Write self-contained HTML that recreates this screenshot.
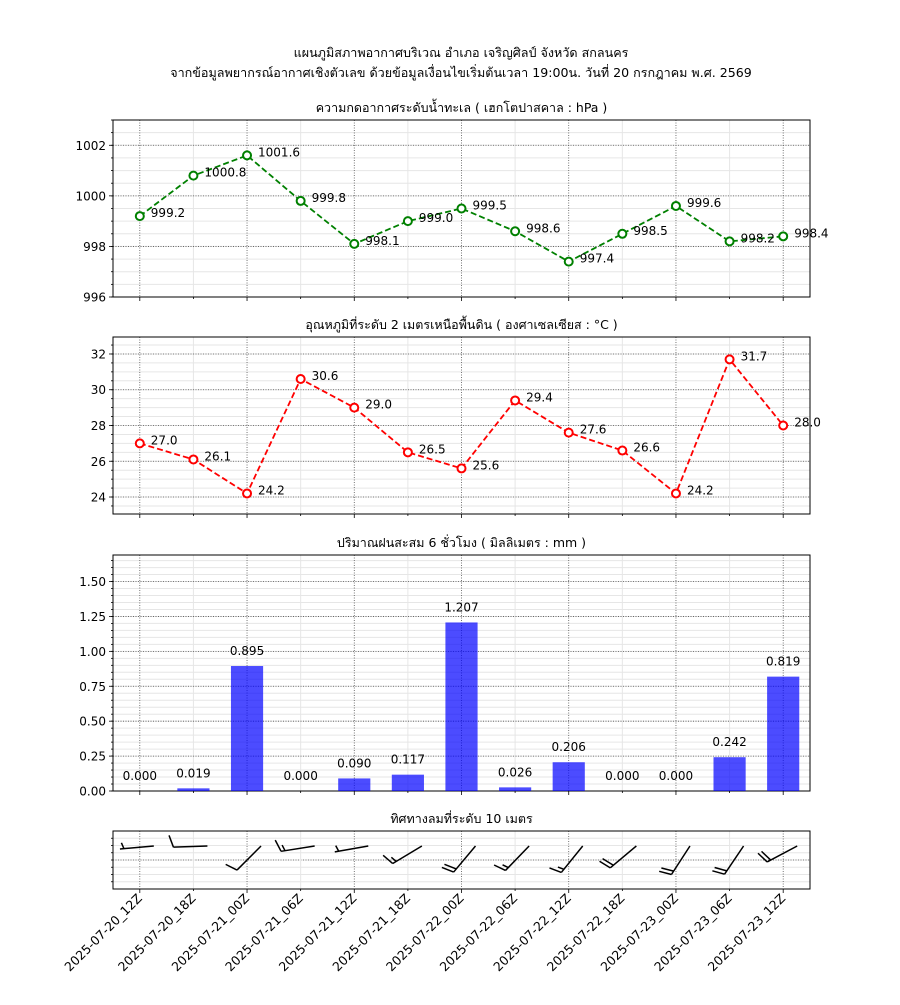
<!DOCTYPE html>
<html><head><meta charset="utf-8"><style>
body{margin:0;background:#fff;}
svg text{font-family:"DejaVu Sans","Noto Sans CJK SC","Liberation Sans",sans-serif;fill:#000;}
</style></head><body>
<svg id="c" width="900" height="1000" xmlns="http://www.w3.org/2000/svg">
<rect width="900" height="1000" fill="#fff"/>
<text x="461" y="57" font-size="12.6" text-anchor="middle">แผนภูมิสภาพอากาศบริเวณ อำเภอ เจริญศิลป์ จังหวัด สกลนคร</text>
<text x="461" y="77" font-size="12.6" text-anchor="middle">จากข้อมูลพยากรณ์อากาศเชิงตัวเลข ด้วยข้อมูลเงื่อนไขเริ่มต้นเวลา 19:00น. วันที่ 20 กรกฎาคม พ.ศ. 2569</text>
</svg>
<script>
const categories=["2025-07-20_12Z","2025-07-20_18Z","2025-07-21_00Z","2025-07-21_06Z","2025-07-21_12Z","2025-07-21_18Z","2025-07-22_00Z","2025-07-22_06Z","2025-07-22_12Z","2025-07-22_18Z","2025-07-23_00Z","2025-07-23_06Z","2025-07-23_12Z"];
const pressure=[999.2,1000.8,1001.6,999.8,998.1,999.0,999.5,998.6,997.4,998.5,999.6,998.2,998.4];
const temperature=[27.0,26.1,24.2,30.6,29.0,26.5,25.6,29.4,27.6,26.6,24.2,31.7,28.0];
const rain=[0.000,0.019,0.895,0.000,0.090,0.117,1.207,0.026,0.206,0.000,0.000,0.242,0.819];
const windDirDeg=[265,268,225,261,260,239,220,224,219,230,213,214,242];
const windSpeedKt=[5,10,10,15,5,15,20,15,15,20,20,20,20];
const pressureTicks=[996,998,1000,1002];
const tempTicks=[24,26,28,30,32];
const rainTicks=[0,0.25,0.5,0.75,1.0,1.25,1.5];

const svg=document.getElementById('c');
const NS='http://www.w3.org/2000/svg';
function mk(tag,attrs,parent){const e=document.createElementNS(NS,tag);for(const k in attrs)e.setAttribute(k,attrs[k]);(parent||svg).appendChild(e);return e;}
const L=113,R=810;
const xS=i=>L+(i+0.5)*(R-L)/categories.length;
function yScale(min,max,top,bot){return v=>bot-(v-min)/(max-min)*(bot-top);}

function frame(name,top,bot,title,ymin,ymax,ticks,minorStep,fmt){
  const g=mk('g',{});
  
  
  const y=yScale(ymin,ymax,top,bot);
  for(let v=Math.ceil(ymin/minorStep)*minorStep;v<=ymax+1e-9;v+=minorStep){mk('line',{x1:L,x2:R,y1:y(v),y2:y(v),stroke:'#e6e6e6','stroke-width':1},g);
    mk('line',{x1:L-2,x2:L,y1:y(v),y2:y(v),stroke:'#000','stroke-width':0.8},g);}
  categories.forEach((c,i)=>{const x=xS(i);
    if(i%2==0)mk('line',{x1:x,x2:x,y1:top,y2:bot,stroke:'#555','stroke-width':0.8,'stroke-dasharray':'1,1.5'},g);
    else mk('line',{x1:x,x2:x,y1:top,y2:bot,stroke:'#e6e6e6','stroke-width':1},g);
    mk('line',{x1:x,x2:x,y1:bot,y2:bot+(i%2==0?4:2),stroke:'#000','stroke-width':0.8},g);});
  ticks.forEach(v=>{mk('line',{x1:L,x2:R,y1:y(v),y2:y(v),stroke:'#555','stroke-width':0.8,'stroke-dasharray':'1,1.5'},g);
    mk('line',{x1:L-4,x2:L,y1:y(v),y2:y(v),stroke:'#000','stroke-width':0.8},g);
    const t=mk('text',{x:L-7,y:y(v)+4.5,'font-size':12,'text-anchor':'end'},g);t.textContent=fmt(v);
    
    });
  mk('rect',{x:L,y:top,width:R-L,height:bot-top,fill:'none',stroke:'#000','stroke-width':1},g);
  const tt=mk('text',{x:(L+R)/2,y:top-8,'font-size':12.5,'text-anchor':'middle'},g);tt.textContent=title;
  
  
  return {g,y};
}

function linePanel(name,top,bot,title,ymin,ymax,ticks,minor,data,color){
  const {g,y}=frame(name,top,bot,title,ymin,ymax,ticks,minor,v=>String(v));
  const pts=data.map((v,i)=>xS(i)+','+y(v)).join(' ');
  const pl=mk('polyline',{points:pts,fill:'none',stroke:color,'stroke-width':1.8,'stroke-dasharray':'6,3'},g);
  
  
  data.forEach((v,i)=>{const c=mk('circle',{cx:xS(i),cy:y(v),r:4,fill:'#fff',stroke:color,'stroke-width':2},g);
    
    
    const t=mk('text',{x:xS(i)+11,y:y(v)+1,'font-size':12},g);t.textContent=v.toFixed(1);
    
    });
}
linePanel('pressure-panel',120,297,'ความกดอากาศระดับน้ำทะเล ( เฮกโตปาสคาล : hPa )',996,1003,pressureTicks,0.5,pressure,'#008000');
linePanel('temperature-panel',337,514,'อุณหภูมิที่ระดับ 2 เมตรเหนือพื้นดิน ( องศาเซลเซียส : °C )',23.05,32.95,tempTicks,0.5,temperature,'#ff0000');

(function(){
  const top=555,bot=791;
  const {g,y}=frame('rain-panel',top,bot,'ปริมาณฝนสะสม 6 ชั่วโมง ( มิลลิเมตร : mm )',0,1.69,rainTicks,0.05,v=>v.toFixed(2));
  const bw=0.6*(R-L)/categories.length;
  rain.forEach((v,i)=>{const b=mk('rect',{x:xS(i)-bw/2,y:y(v),width:bw,height:bot-y(v),fill:'rgba(0,0,255,0.7)'},g);
    
    
    const t=mk('text',{x:xS(i),y:y(v)-11,'font-size':12,'text-anchor':'middle'},g);t.textContent=v.toFixed(3);
    
    });
})();

(function(){
  const top=831,bot=889;
  const g=mk('g',{});
  
  
  for(let k=1;k<8;k++){const yy=top+k*(bot-top)/8;mk('line',{x1:L,x2:R,y1:yy,y2:yy,stroke:'#e6e6e6'},g);mk('line',{x1:L-2,x2:L,y1:yy,y2:yy,stroke:'#000','stroke-width':0.8},g);}
  mk('line',{x1:L,x2:R,y1:860,y2:860,stroke:'#555','stroke-width':0.8,'stroke-dasharray':'1,1.5'},g);
  categories.forEach((c,i)=>{const x=xS(i);
    if(i%2==0)mk('line',{x1:x,x2:x,y1:top,y2:bot,stroke:'#555','stroke-width':0.8,'stroke-dasharray':'1,1.5'},g);
    else mk('line',{x1:x,x2:x,y1:top,y2:bot,stroke:'#e6e6e6'},g);
    mk('line',{x1:x,x2:x,y1:bot,y2:bot+(i%2==0?4:2),stroke:'#000','stroke-width':0.8},g);
    const ax=x+3,ay=bot+10;
    const t=mk('text',{x:ax,y:ay,'font-size':12.5,'text-anchor':'end',transform:`rotate(-45 ${ax} ${ay})`});
    t.textContent=c;
    
    });
  mk('rect',{x:L,y:top,width:R-L,height:bot-top,fill:'none',stroke:'#000'},g);
  const tt=mk('text',{x:(L+R)/2,y:top-8,'font-size':12.5,'text-anchor':'middle'},g);tt.textContent='ทิศทางลมที่ระดับ 10 เมตร';
  
  
  const len=34;
  windDirDeg.forEach((d,i)=>{
    const r=d*Math.PI/180,dx=Math.sin(r),dy=-Math.cos(r);
    const tx=xS(i)+14,ty=846,ex=tx+dx*len,ey=ty+dy*len;
    const bg=mk('g',{stroke:'#000','stroke-width':1.5,fill:'none'},g);
    
    
    mk('line',{x1:tx,y1:ty,x2:ex,y2:ey},bg);
    let s=Math.round(windSpeedKt[i]/5)*5,pos=0;
    const px=-dy,py=dx;
    while(s>=10){const bx=ex-dx*pos*4,by=ey-dy*pos*4;
      mk('line',{x1:bx,y1:by,x2:bx+px*12+dx*4,y2:by+py*12+dy*4},bg);s-=10;pos++;}
    if(s>=5){if(pos==0)pos=1;const bx=ex-dx*pos*4,by=ey-dy*pos*4;
      mk('line',{x1:bx,y1:by,x2:bx+px*6+dx*2,y2:by+py*6+dy*2},bg);}
  });
})();
</script>
</body></html>
